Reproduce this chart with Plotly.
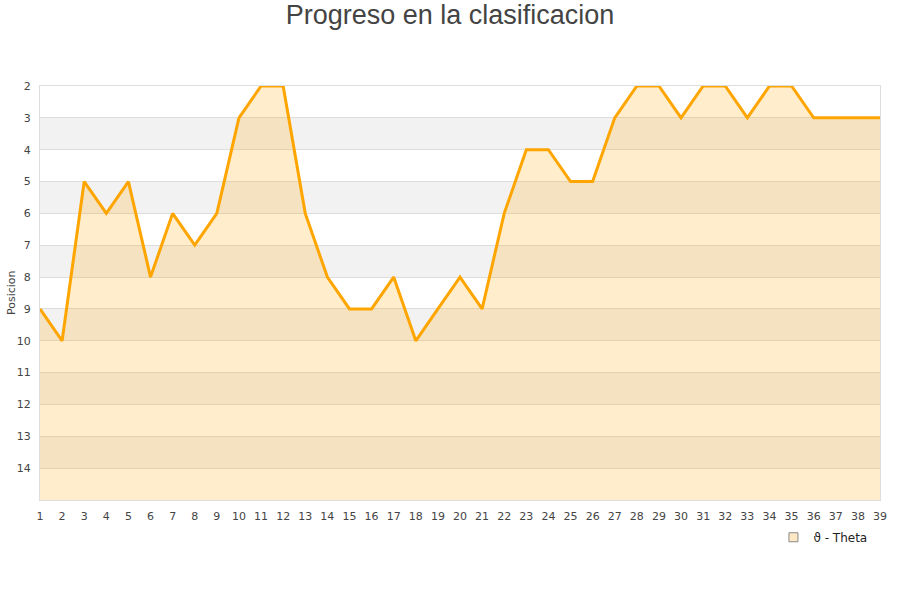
"""Progreso en la clasificacion: posicion por jornada."""
import plotly.graph_objects as go

# Jornadas y posicion en la clasificacion
jornadas = list(range(1, 40))
posicion = [9, 10, 5, 6, 5, 8, 6, 7, 6, 3, 2, 2, 6, 8, 9, 9, 8, 10, 9, 8,
            9, 6, 4, 4, 5, 5, 3, 2, 2, 3, 2, 2, 3, 2, 2, 3, 3, 3, 3]
serie = "ϑ - Theta"
y_min, y_max = 2, 15

fig = go.Figure()

# alternating bands (gray on 3-4, 5-6, ...)
for k in range(3, y_max, 2):
    fig.add_shape(type="rect", xref="paper", yref="y", x0=0, x1=1, y0=k, y1=k + 1,
                  fillcolor="#f2f2f2", line_width=0, layer="below")

# baseline for the area fill
fig.add_trace(go.Scatter(x=jornadas, y=[y_max] * len(jornadas), mode="lines",
                         line=dict(width=0), showlegend=False, hoverinfo="skip"))
fig.add_trace(go.Scatter(x=jornadas, y=posicion, mode="lines", fill="tonexty",
                         fillcolor="rgba(255,165,0,0.2)",
                         line=dict(color="#ffa500", width=3), showlegend=False, name=serie))
# legend entry only
fig.add_trace(go.Scatter(x=[None], y=[None], mode="markers", name=serie,
                         marker=dict(symbol="square", size=9, color="#fde9c6",
                                     line=dict(color="#888", width=1))))

# y axis title as a rotated annotation (exact placement)
fig.add_annotation(text="Posicion", xref="paper", yref="paper", x=-0.0345, y=0.5,
                   xanchor="center", yanchor="middle", textangle=-90, showarrow=False,
                   font=dict(size=11, color="#444"))

fig.update_layout(
    width=900, height=600,
    paper_bgcolor="white", plot_bgcolor="white",
    margin=dict(l=40, r=20, t=86, b=100, autoexpand=False),
    font=dict(family="DejaVu Sans", size=11, color="#444"),
    title=dict(text="Progreso en la clasificacion", x=0.5, xanchor="center",
               y=0.975, yanchor="middle",
               font=dict(family="Liberation Sans", size=27, color="#444")),
    xaxis=dict(range=[1, 39], tickmode="array", tickvals=jornadas, showgrid=False,
               zeroline=False, showline=True, linecolor="#ddd", mirror=True,
               ticks="outside", ticklen=6, tickcolor="rgba(0,0,0,0)",
               tickfont=dict(size=11), automargin=False),
    yaxis=dict(range=[y_max, y_min], tickmode="array", tickvals=list(range(2, 15)),
               showgrid=True, gridcolor="#ddd", zeroline=False, showline=True,
               linecolor="#ddd", mirror=True, ticks="outside", ticklen=6,
               tickcolor="rgba(0,0,0,0)", tickfont=dict(size=11), automargin=False),
    legend=dict(x=0.991, xanchor="right", y=-0.09, yanchor="middle",
                bgcolor="rgba(0,0,0,0)", font=dict(size=12, color="#222")),
)

# drop the default page margin so the figure sits at the window corner
fig.write_html("out.html", config={"displayModeBar": False},
               post_script="document.body.style.margin='0';")
